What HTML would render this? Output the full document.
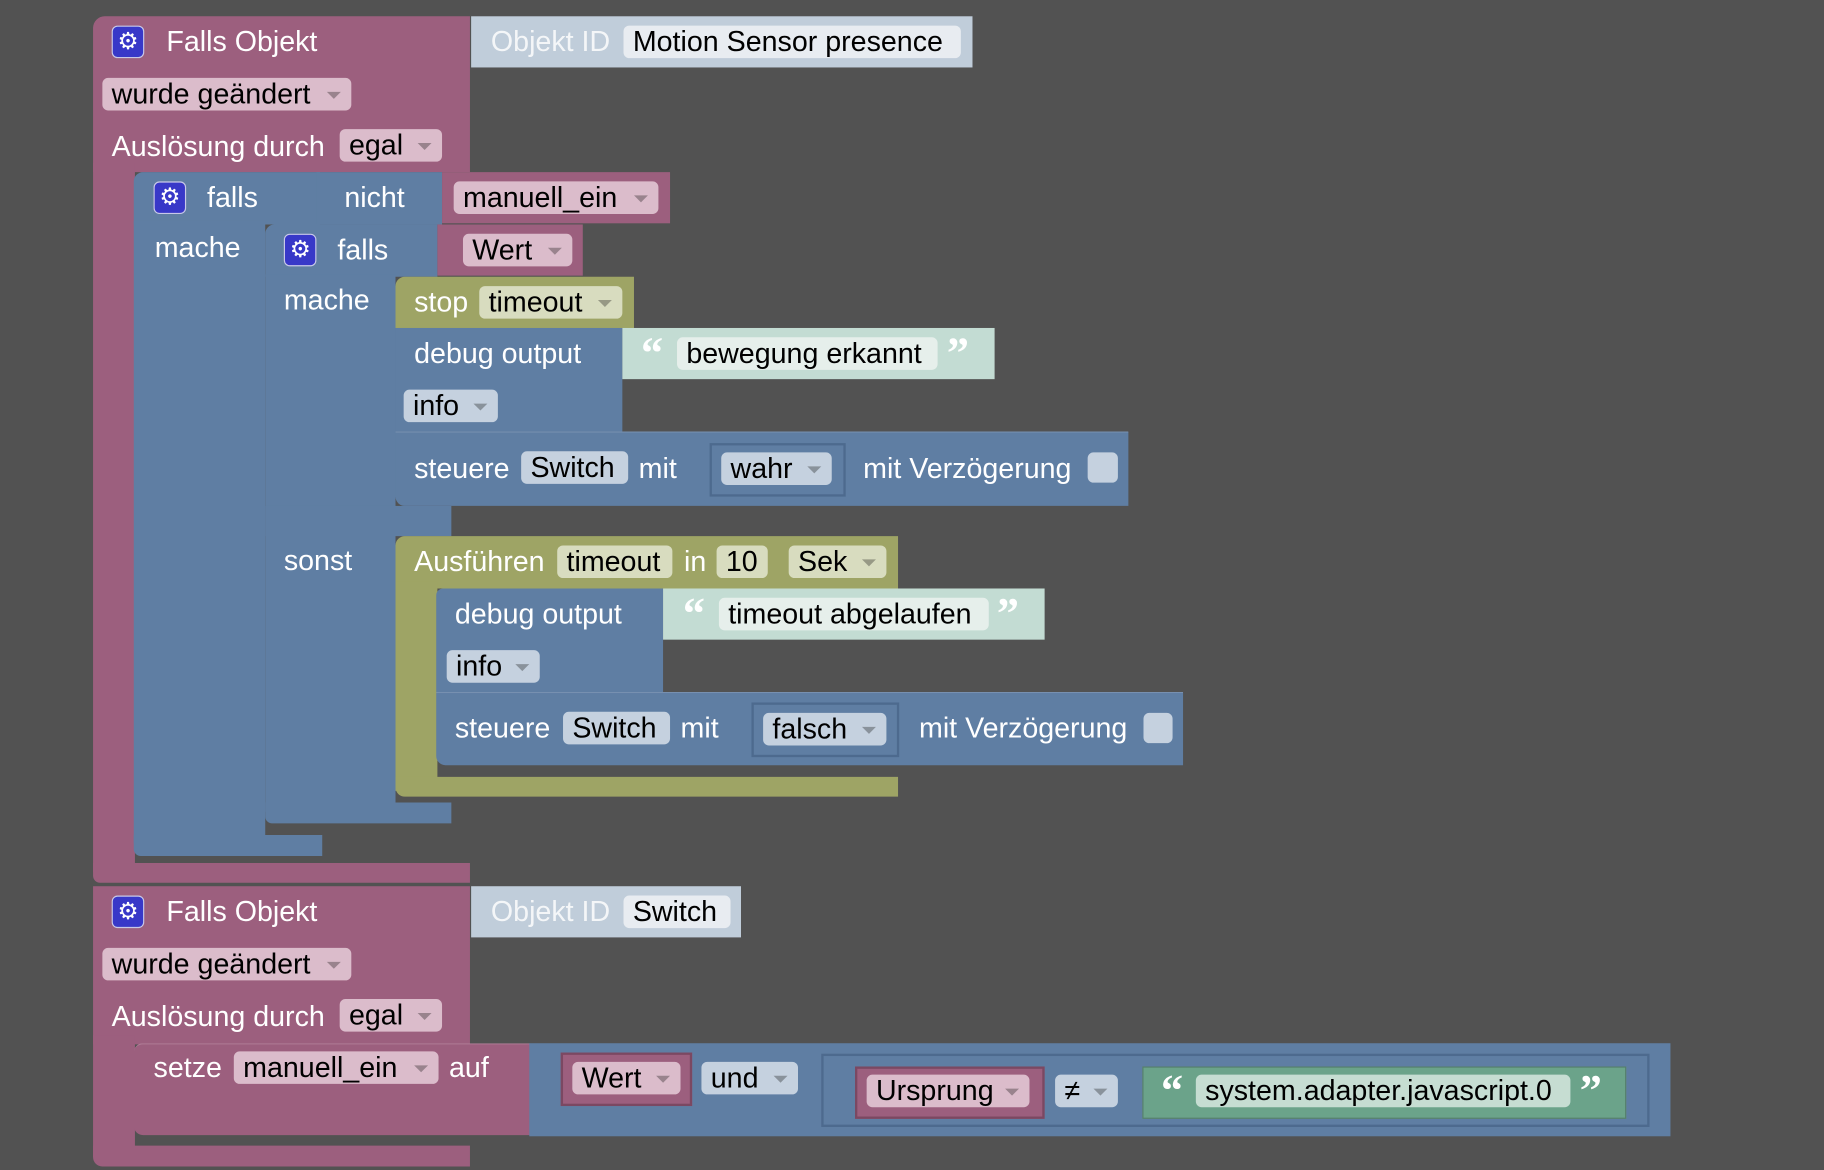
<!DOCTYPE html>
<html><head><meta charset="utf-8"><style>
html,body{margin:0;padding:0;background:#525252;width:1824px;height:1170px;overflow:hidden}
#c{position:absolute;left:0;top:0;width:1568px;height:1006px;transform:scale(1.16327,1.16302);transform-origin:0 0;font-family:"Liberation Sans",Arial,sans-serif;font-size:24.6px}
#c div{position:absolute;box-sizing:border-box}
.p{background:#9c5f7e}.b{background:#5f7ea3}.o{background:#9ea465}.m{background:#c3dcd3}.g{background:#6ba38a}.lb{background:#c0cdda}
.t{color:#fff;white-space:nowrap;line-height:30px;height:28px}
.f{border-radius:5px;color:#000;white-space:nowrap;line-height:30px;height:28px;padding-left:8px}
.fp{background:#dbbccb}.fb{background:#c5d1df}.fo{background:#d8dcbf}.fm{background:#e6efeb}.fw{background:#e8ecf1}
.ar:after{content:"";position:absolute;right:9px;top:12px;border-left:6px solid transparent;border-right:6px solid transparent;border-top:6px solid rgba(0,0,0,.3)}
.gear{width:28px;height:28px;background:#3838c8;border-radius:5px;border:1px solid #c8c8e8;color:#fff;text-align:center;line-height:26px;font-size:20px}
.ol{border:2px solid #4d6a8e}
.q{color:#fff;font-size:38px;font-family:"Liberation Serif",serif;font-weight:bold;line-height:40px}
</style></head><body><div id="c">
<div class="p" style="left:80px;top:14px;width:324px;height:134px;border-radius:10px 0 0 0"></div>
<div class="p" style="left:80px;top:140px;width:36px;height:610px"></div>
<div class="p" style="left:80px;top:742px;width:324px;height:17px;border-radius:0 0 0 6px"></div>
<div class="lb" style="left:405px;top:14px;width:431px;height:44px"></div>
<div class="t" style="left:422px;top:22px;color:#f4f6f8">Objekt ID</div>
<div class="f fw" style="left:536px;top:22px;width:290px">Motion Sensor presence</div>
<div class="gear" style="left:96px;top:22px">⚙</div>
<div class="t" style="left:143px;top:22px">Falls Objekt</div>
<div class="f fp ar" style="left:88px;top:67px;width:214px">wurde geändert</div>
<div class="t" style="left:96px;top:112px">Auslösung durch</div>
<div class="f fp ar" style="left:292px;top:111px;width:88px">egal</div>
<div class="b" style="left:115px;top:148px;width:160px;height:45px;border-radius:8px 0 0 0"></div>
<div class="b" style="left:115px;top:190px;width:113px;height:535px"></div>
<div class="b" style="left:115px;top:718px;width:162px;height:18px;border-radius:0 0 0 6px"></div>
<div class="b" style="left:272px;top:148px;width:108px;height:45px"></div>
<div class="gear" style="left:132px;top:156px">⚙</div>
<div class="t" style="left:178px;top:156px">falls</div>
<div class="t" style="left:296px;top:156px">nicht</div>
<div class="p" style="left:380px;top:148px;width:196px;height:44px"></div>
<div class="f fp ar" style="left:390px;top:156px;width:176px">manuell_ein</div>
<div class="t" style="left:133px;top:199px">mache</div>
<div class="b" style="left:228px;top:193px;width:148px;height:45px;border-radius:8px 0 0 0"></div>
<div class="b" style="left:228px;top:236px;width:112px;height:462px"></div>
<div class="b" style="left:228px;top:435px;width:160px;height:26px"></div>
<div class="b" style="left:228px;top:690px;width:160px;height:18px;border-radius:0 0 0 6px"></div>
<div class="p" style="left:376px;top:193px;width:125px;height:44px"></div>
<div class="f fp ar" style="left:398px;top:201px;width:94px">Wert</div>
<div class="gear" style="left:244px;top:201px">⚙</div>
<div class="t" style="left:290px;top:201px">falls</div>
<div class="t" style="left:244px;top:244px">mache</div>
<div class="t" style="left:244px;top:468px">sonst</div>
<div class="o" style="left:340px;top:238px;width:205px;height:44px;border-radius:8px 0 0 0"></div>
<div class="t" style="left:356px;top:246px">stop</div>
<div class="f fo ar" style="left:412px;top:246px;width:123px">timeout</div>
<div class="b" style="left:340px;top:282px;width:195px;height:89px"></div>
<div class="t" style="left:356px;top:290px">debug output</div>
<div class="m" style="left:535px;top:282px;width:320px;height:44px"></div>
<div class="q" style="left:551px;top:284px">“</div>
<div class="f fm" style="left:582px;top:290px;width:224px">bewegung erkannt</div>
<div class="q" style="left:814px;top:284px">”</div>
<div class="f fb ar" style="left:347px;top:335px;width:81px">info</div>
<div class="b" style="left:340px;top:371px;width:630px;height:64px;border-top:1px solid #7790b0;border-radius:0 0 0 8px"></div>
<div class="t" style="left:356px;top:389px">steuere</div>
<div class="f fb" style="left:448px;top:388px;width:92px">Switch</div>
<div class="t" style="left:549px;top:389px">mit</div>
<div class="b ol" style="left:610px;top:381px;width:117px;height:46px"></div>
<div class="f fb ar" style="left:620px;top:389px;width:95px">wahr</div>
<div class="t" style="left:742px;top:389px">mit Verzögerung</div>
<div class="fb" style="left:935px;top:389px;width:26px;height:26px;border-radius:5px"></div>
<div class="o" style="left:340px;top:461px;width:432px;height:45px;border-radius:8px 0 0 0"></div>
<div class="o" style="left:340px;top:500px;width:36px;height:180px"></div>
<div class="o" style="left:340px;top:668px;width:432px;height:17px;border-radius:0 0 0 8px"></div>
<div class="t" style="left:356px;top:469px">Ausführen</div>
<div class="f fo" style="left:479px;top:469px;width:99px">timeout</div>
<div class="t" style="left:588px;top:469px">in</div>
<div class="f fo" style="left:616px;top:469px;width:44px">10</div>
<div class="f fo ar" style="left:678px;top:469px;width:84px">Sek</div>
<div class="b" style="left:375px;top:506px;width:195px;height:89px;border-radius:6px 0 0 0"></div>
<div class="t" style="left:391px;top:514px">debug output</div>
<div class="m" style="left:570px;top:506px;width:328px;height:44px"></div>
<div class="q" style="left:587px;top:508px">“</div>
<div class="f fm" style="left:618px;top:514px;width:232px">timeout abgelaufen</div>
<div class="q" style="left:857px;top:508px">”</div>
<div class="f fb ar" style="left:384px;top:559px;width:80px">info</div>
<div class="b" style="left:375px;top:595px;width:642px;height:63px;border-top:1px solid #7790b0;border-radius:0 0 0 8px"></div>
<div class="t" style="left:391px;top:612px">steuere</div>
<div class="f fb" style="left:484px;top:612px;width:92px">Switch</div>
<div class="t" style="left:585px;top:612px">mit</div>
<div class="b ol" style="left:646px;top:604px;width:127px;height:47px"></div>
<div class="f fb ar" style="left:656px;top:613px;width:106px">falsch</div>
<div class="t" style="left:790px;top:612px">mit Verzögerung</div>
<div class="fb" style="left:983px;top:613px;width:25px;height:26px;border-radius:5px"></div>
<div class="p" style="left:80px;top:762px;width:324px;height:136px"></div>
<div class="p" style="left:80px;top:890px;width:36px;height:105px"></div>
<div class="p" style="left:80px;top:985px;width:324px;height:18px;border-radius:0 0 0 8px"></div>
<div class="lb" style="left:405px;top:762px;width:232px;height:44px"></div>
<div class="t" style="left:422px;top:770px;color:#f4f6f8">Objekt ID</div>
<div class="f fw" style="left:536px;top:770px;width:92px">Switch</div>
<div class="gear" style="left:96px;top:770px">⚙</div>
<div class="t" style="left:143px;top:770px">Falls Objekt</div>
<div class="f fp ar" style="left:88px;top:815px;width:214px">wurde geändert</div>
<div class="t" style="left:96px;top:860px">Auslösung durch</div>
<div class="f fp ar" style="left:292px;top:859px;width:88px">egal</div>
<div class="p" style="left:115px;top:897px;width:341px;height:79px;border-radius:8px 0 0 8px;border-top:1px solid #b07d97"></div>
<div class="t" style="left:132px;top:904px">setze</div>
<div class="f fp ar" style="left:201px;top:904px;width:176px">manuell_ein</div>
<div class="t" style="left:386px;top:904px">auf</div>
<div class="b" style="left:455px;top:897px;width:981px;height:80px"></div>
<div class="p" style="left:482px;top:905px;width:113px;height:46px;border:2px solid #7b4862"></div>
<div class="f fp ar" style="left:492px;top:913px;width:93px">Wert</div>
<div class="f fb ar" style="left:603px;top:913px;width:83px">und</div>
<div class="b ol" style="left:706px;top:906px;width:712px;height:63px"></div>
<div class="p" style="left:735px;top:917px;width:163px;height:45px;border:2px solid #7b4862"></div>
<div class="f fp ar" style="left:745px;top:924px;width:140px">Ursprung</div>
<div class="f fb ar" style="left:907px;top:924px;width:54px">≠</div>
<div class="g" style="left:982px;top:917px;width:416px;height:45px;border:1px solid #557f6c"></div>
<div class="q" style="left:998px;top:918px">“</div>
<div class="f fm" style="left:1028px;top:924px;width:322px;background:#c6ddd2">system.adapter.javascript.0</div>
<div class="q" style="left:1358px;top:918px">”</div>
</div></body></html>
